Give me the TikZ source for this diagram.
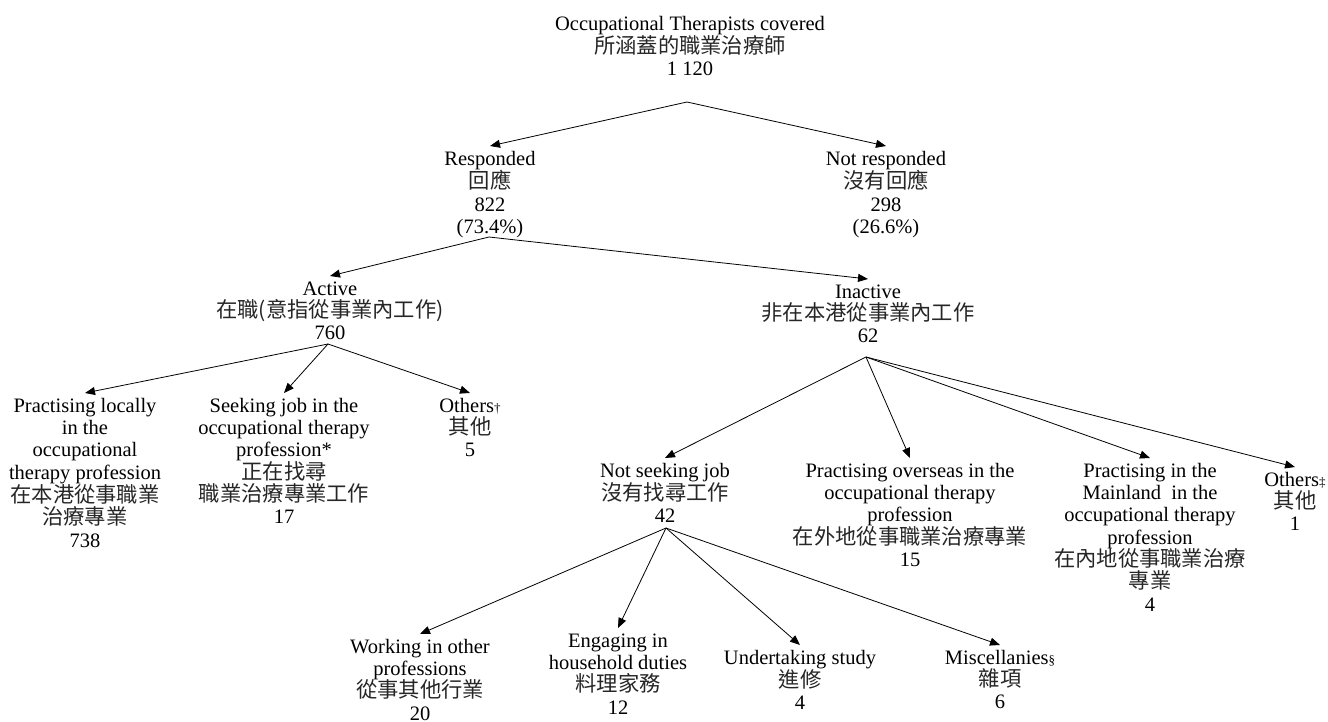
\documentclass[tikz,border=0pt]{standalone}
\usepackage{fontspec}
\setmainfont{Liberation Serif}
\newfontfamily\cjk{Noto Sans CJK TC}
\usetikzlibrary{arrows.meta}
\newcommand{\firststrut}{\rule{0pt}{19pt}}
\newcommand{\smsym}[1]{{\fontsize{13}{13}\selectfont #1}}
\newcommand{\zh}[1]{{\cjk\fontsize{21.3}{22.3}\selectfont\color{black!85}#1}}
\tikzset{
  box/.style={align=center, inner sep=0pt, anchor=north,
    font=\fontsize{20.5}{22.3}\selectfont},
  arr/.style={-{Triangle[length=10pt,width=8pt]}, line width=0.8pt}
}
\begin{document}
\begin{tikzpicture}[x=1pt,y=-1pt]
\useasboundingbox (0,0) rectangle (1328,722);
% level 0
\node[box] (n0) at (690,11) {\firststrut Occupational Therapists covered\\ \zh{所涵蓋的職業治療師}\\ 1 120};
% level 1
\node[box] (resp) at (490,146) {\firststrut Responded\\ \zh{回應}\\ 822\\ (73.4\%)};
\node[box] (nresp) at (886,146) {\firststrut Not responded\\ \zh{沒有回應}\\ 298\\ (26.6\%)};
% level 2
\node[box] (act) at (330,276) {\firststrut Active\\ \zh{在職(意指從事業內工作)}\\ 760};
\node[box] (inact) at (868,279) {\firststrut Inactive\\ \zh{非在本港從事業內工作}\\ 62};
% level 3 (active)
\node[box] (loc) at (85,393) {\firststrut Practising locally\\ in the\\ occupational\\ therapy profession\\ \zh{在本港從事職業}\\ \zh{治療專業}\\ 738};
\node[box] (seek) at (284,393) {\firststrut Seeking job in the\\ occupational therapy\\ profession*\\ \zh{正在找尋}\\ \zh{職業治療專業工作}\\ 17};
\node[box] (oth1) at (470,393) {\firststrut Others\smsym{†}\\ \zh{其他}\\ 5};
% level 3 (inactive)
\node[box] (nsj) at (665,458) {\firststrut Not seeking job\\ \zh{沒有找尋工作}\\ 42};
\node[box] (over) at (910,458) {\firststrut Practising overseas in the\\ occupational therapy\\ profession\\ \zh{在外地從事職業治療專業}\\ 15};
\node[box] (mland) at (1150,458) {\firststrut Practising in the\\ Mainland\ \ in the\\ occupational therapy\\ profession\\ \zh{在內地從事職業治療}\\ \zh{專業}\\ 4};
\node[box] (oth2) at (1295,467) {\firststrut Others\smsym{‡}\\ \zh{其他}\\ 1};
% level 4
\node[box] (work) at (420,634) {\firststrut Working in other\\ professions\\ \zh{從事其他行業}\\ 20};
\node[box] (eng) at (618,628) {\firststrut Engaging in\\ household duties\\ \zh{料理家務}\\ 12};
\node[box] (und) at (800,645) {\firststrut Undertaking study\\ \zh{進修}\\ 4};
\node[box] (misc) at (1000,645) {\firststrut Miscellanies\smsym{§}\\ \zh{雜項}\\ 6};
% branch points
\coordinate (o0) at (687,102);
\coordinate (o1) at (489,237);
\coordinate (o2) at (328,344);
\coordinate (o3) at (866,357);
\coordinate (o4) at (666,528);
% connectors
\draw[arr] (o0) -- (resp.north);
\draw[arr] (o0) -- (nresp.north);
\draw[arr] (o1) -- (act.north);
\draw[arr] (o1) -- (inact.north);
\draw[arr] (o2) -- (loc.north);
\draw[arr] (o2) -- (seek.north);
\draw[arr] (o2) -- (oth1.north);
\draw[arr] (o3) -- (nsj.north);
\draw[arr] (o3) -- (over.north);
\draw[arr] (o3) -- (mland.north);
\draw[arr] (o3) -- (oth2.north);
\draw[arr] (o4) -- (work.north);
\draw[arr] (o4) -- (eng.north);
\draw[arr] (o4) -- (und.north);
\draw[arr] (o4) -- (misc.north);
\end{tikzpicture}
\end{document}
